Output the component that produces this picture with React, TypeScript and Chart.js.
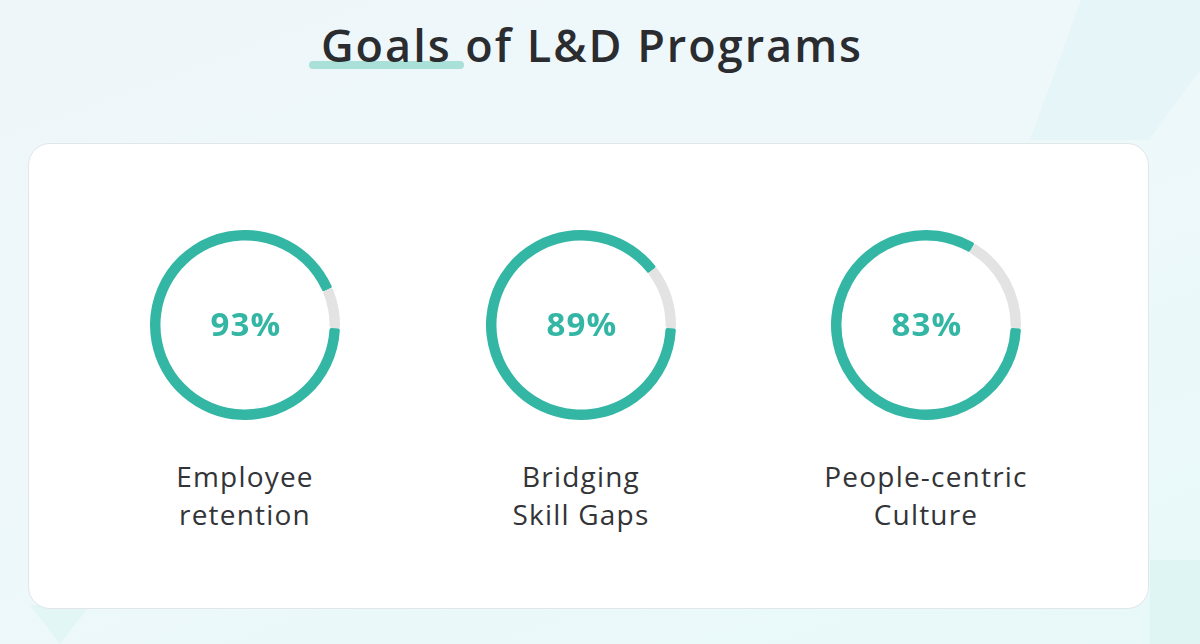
import React, { useEffect, useRef } from "react";
import { Chart, registerables } from "chart.js";

Chart.register(...registerables);

// ---- data ----
const titleText = "Goals of L&D Programs";
const categories: string[][] = [
  ["Employee", "retention"],
  ["Bridging", "Skill Gaps"],
  ["People-centric", "Culture"],
];
const values: number[] = [93, 89, 83];
const remainders: number[] = values.map((v) => 100 - v);
const sliceLabels: string[] = ["Achieved", "Remaining"];

const TEAL = "#33b6a4";
const GRAY = "#e3e3e3";
const FONT = "'Open Sans', 'Noto Sans', sans-serif";

const ringCentersX = [245, 581, 926];
const RING_CY = 325;
const RING_SIZE = 190;

const centerTextPlugin = {
  id: "centerText",
  afterDraw(chart: any) {
    const { ctx, chartArea } = chart;
    const v = chart.data.datasets[0].data[0];
    const cx = (chartArea.left + chartArea.right) / 2;
    const cy = (chartArea.top + chartArea.bottom) / 2;
    ctx.save();
    ctx.fillStyle = TEAL;
    ctx.font = `bold 33px ${FONT}`;
    try {
      (ctx as any).letterSpacing = "1.2px";
    } catch (e) {}
    ctx.textAlign = "center";
    ctx.textBaseline = "middle";
    ctx.fillText(`${v}%`, cx + 1, cy + 2);
    ctx.restore();
  },
};

function Ring({ value, rest }: { value: number; rest: number }) {
  const ref = useRef<HTMLCanvasElement>(null);
  useEffect(() => {
    if (!ref.current) return;
    const chart = new Chart(ref.current, {
      type: "doughnut",
      data: {
        labels: sliceLabels,
        datasets: [
          {
            data: [value, rest],
            backgroundColor: [TEAL, GRAY],
            borderWidth: 0,
            borderRadius: 2,
          },
        ],
      },
      options: {
        responsive: false,
        animation: false,
        rotation: 92,
        cutout: "89%",
        layout: { padding: 0 },
        plugins: { legend: { display: false }, tooltip: { enabled: false } },
      },
      plugins: [centerTextPlugin],
    } as any);
    return () => chart.destroy();
  }, [value, rest]);
  return <canvas ref={ref} width={RING_SIZE} height={RING_SIZE} />;
}

export default function App() {
  return (
    <div
      style={{
        position: "absolute",
        left: 0,
        top: 0,
        width: 1200,
        height: 644,
        overflow: "hidden",
        background: "linear-gradient(160deg, #eef6fa 0%, #eef8fa 45%, #e8f9f9 100%)",
        fontFamily: FONT,
      }}
    >
      {/* faint background shapes */}
      <div style={{ position: "absolute", left: 1030, top: 0, width: 170, height: 140, background: "#e3f3f6", clipPath: "polygon(30% 0, 100% 0, 100% 50%, 70% 100%, 0 100%)", opacity: 0.7 }} />
      <div style={{ position: "absolute", left: 1150, top: 560, width: 50, height: 84, background: "#dcf4f3", opacity: 0.8 }} />
      <div style={{ position: "absolute", left: 30, top: 605, width: 60, height: 39, background: "#e2f6f5", clipPath: "polygon(0 0, 100% 0, 50% 100%)" }} />

      {/* title underline */}
      <div style={{ position: "absolute", left: 309, top: 61, width: 155, height: 8, borderRadius: 4, background: "#a9e1d8" }} />
      <div
        style={{
          position: "absolute",
          left: 0,
          width: 1184,
          top: 15,
          textAlign: "center",
          fontSize: 45,
          fontWeight: 600,
          color: "#2a2c2f",
          lineHeight: "60px",
          letterSpacing: 2,
        }}
      >
        {titleText}
      </div>

      {/* card */}
      <div
        style={{
          position: "absolute",
          left: 28,
          top: 143,
          width: 1121,
          height: 466,
          background: "#ffffff",
          borderRadius: 22,
          border: "1.5px solid #e1e6e9",
          boxSizing: "border-box",
        }}
      />

      {values.map((v, i) => (
        <div
          key={i}
          style={{
            position: "absolute",
            left: ringCentersX[i] - RING_SIZE / 2,
            top: RING_CY - RING_SIZE / 2,
            width: RING_SIZE,
            height: RING_SIZE,
          }}
        >
          <Ring value={v} rest={remainders[i]} />
        </div>
      ))}

      {categories.map((lines, i) => (
        <div
          key={i}
          style={{
            position: "absolute",
            left: ringCentersX[i] - 160,
            width: 320,
            top: 457,
            textAlign: "center",
            fontSize: 28,
            lineHeight: "38px",
            letterSpacing: 1.2,
            color: "#333437",
          }}
        >
          {lines.map((l, j) => (
            <div key={j}>{l}</div>
          ))}
        </div>
      ))}
    </div>
  );
}
